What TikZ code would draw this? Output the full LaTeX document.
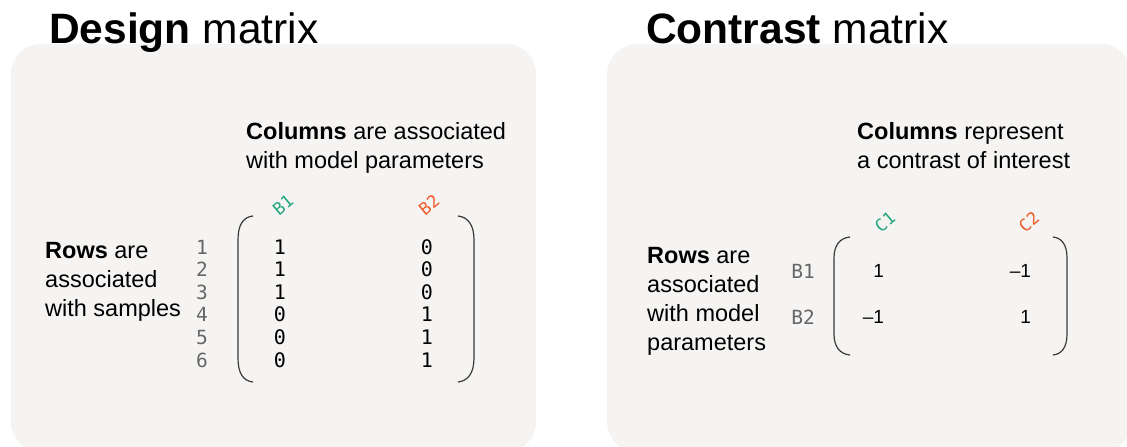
\documentclass[tikz,border=0pt]{standalone}
\usepackage{fontspec}
\setmainfont{Liberation Sans}
\newfontfamily\codefont{DejaVu Sans Mono}
\usetikzlibrary{matrix}
\definecolor{panelbg}{HTML}{F5F4F2}
\definecolor{bgreen}{HTML}{22A57A}
\definecolor{borange}{HTML}{F05A28}
\definecolor{labgray}{HTML}{666666}
\definecolor{parencol}{HTML}{3A3A3A}

\begin{document}
\begin{tikzpicture}[x=1pt,y=-1pt,
  panel/.style={fill=panelbg,rounded corners=30pt},
  title/.style={anchor=base west,inner sep=0pt,font=\fontsize{42.5}{50}\selectfont},
  note/.style={anchor=base west,inner sep=0pt,align=left,font=\fontsize{23.5}{29}\selectfont},
  cell/.style={inner sep=0pt,text height=14pt,text depth=0pt,minimum width=14pt,font=\codefont\fontsize{20}{20}\selectfont},
  ccell/.style={inner sep=0pt,text height=13.5pt,text depth=0pt,text width=22pt,align=right,font=\fontsize{19}{19}\selectfont},
  rowlab/.style={inner sep=0pt,text=labgray,font=\codefont\fontsize{19.5}{19.5}\selectfont},
  collab/.style={inner sep=0pt,rotate=40,font=\codefont\fontsize{17}{17}\selectfont},
  paren/.style={draw=parencol,line width=1.2pt}]
  \useasboundingbox (0,0) rectangle (1127,447);
  \fill[white] (0,0) rectangle (1127,447);
  \fill[panel] (11,44) rectangle (536,452);
  \fill[panel] (607,44) rectangle (1131,452);

  \node[title] (dtitle) at (49,43) {\textbf{Design} matrix};
  \node[title] (ctitle) at (646,43) {\textbf{Contrast} matrix};
  \node[note] (dcols) at (246,168) {\textbf{Columns} are associated\\with model parameters};
  \node[note] (drows) at (45,316) {\textbf{Rows} are\\associated\\with samples};
  \node[note] (ccols) at (857,168) {\textbf{Columns} represent\\a contrast of interest};
  \node[note] (crows) at (647,350) {\textbf{Rows} are\\associated\\with model\\parameters};

  \matrix (dm) [matrix of nodes,nodes={cell},row sep=8.6pt,column sep=133pt] at (353.5,303.5)
  {
    1 & 0 \\
    1 & 0 \\
    1 & 0 \\
    0 & 1 \\
    0 & 1 \\
    0 & 1 \\
  };
  \foreach \r in {1,...,6}
    \node[rowlab] (num\r) at ([xshift=-78pt]dm-\r-1) {\r};
  \node[collab,text=bgreen] (hb1) at ([xshift=3pt,yshift=42pt]dm-1-1) {B1};
  \node[collab,text=borange] (hb2) at ([xshift=2pt,yshift=42pt]dm-1-2) {B2};
  \draw[paren] (253,216) .. controls (243,217) and (238,225) .. (238,240) -- (238,358) .. controls (238,373) and (243,381) .. (253,382);
  \draw[paren] (458,216) .. controls (468,217) and (474,225) .. (474,240) -- (474,358) .. controls (474,373) and (468,381) .. (458,382);

  \matrix (cm) [matrix of nodes,nodes={ccell},row sep=32.5pt,column sep=125pt] at (946.5,294)
  {
    1 & –1 \\
    –1 & 1 \\
  };
  \node[rowlab] (rb1) at ([xshift=-70pt]cm-1-1) {B1};
  \node[rowlab] (rb2) at ([xshift=-70pt]cm-2-1) {B2};
  \node[collab,text=bgreen] (hc1) at ([xshift=12pt,yshift=49pt]cm-1-1) {C1};
  \node[collab,text=borange] (hc2) at ([xshift=9pt,yshift=49pt]cm-1-2) {C2};
  \draw[paren] (850,237) .. controls (840,238) and (834,245) .. (834,258) -- (834,334) .. controls (834,347) and (840,354) .. (850,355);
  \draw[paren] (1053,237) .. controls (1062,238) and (1067,245) .. (1067,258) -- (1067,334) .. controls (1067,347) and (1062,354) .. (1053,355);
\end{tikzpicture}
\end{document}
